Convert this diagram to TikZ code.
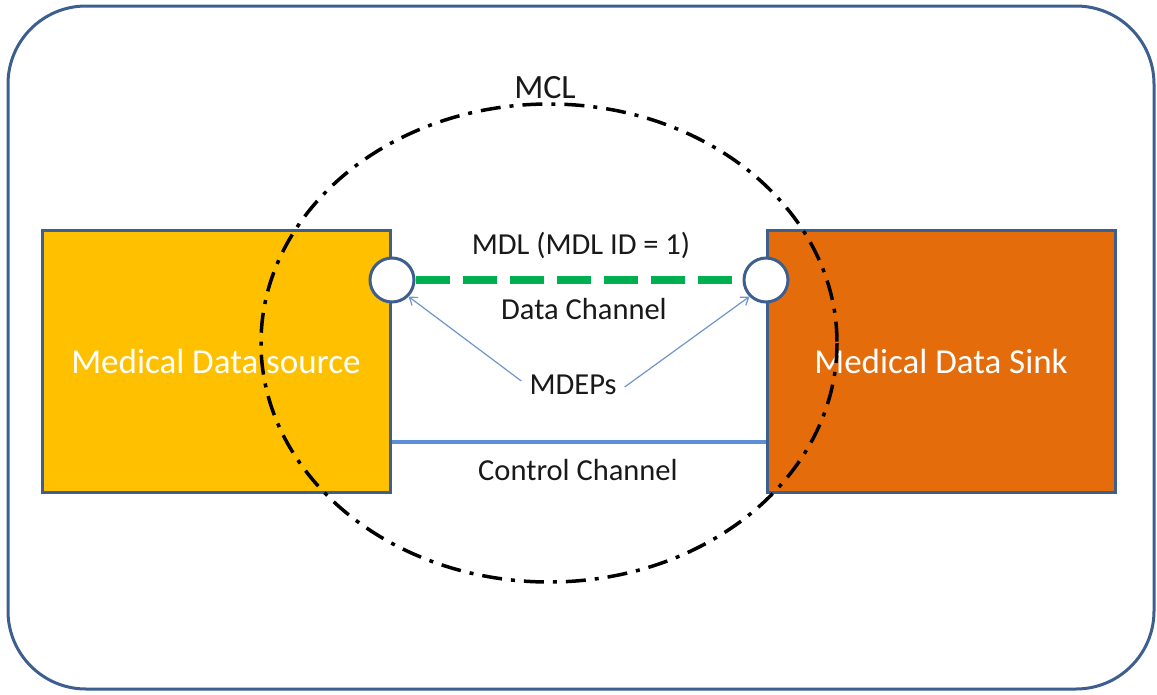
\documentclass[tikz,border=0pt]{standalone}
\usepackage{fontspec}
\setmainfont{Carlito}
\usetikzlibrary{arrows.meta}
\definecolor{frameblue}{HTML}{3D5F8F}
\definecolor{srcgold}{HTML}{FFC000}
\definecolor{sinkorange}{HTML}{E46C0A}
\definecolor{datagreen}{HTML}{00B050}
\definecolor{ctrlblue}{HTML}{5B8FD6}
\definecolor{pointerblue}{HTML}{6E95CC}
\tikzset{
  x=1pt, y=-1pt,
  devicebox/.style={draw=frameblue, line width=3pt, minimum width=348pt, minimum height=262pt, inner sep=0pt, text=white, font=\fontsize{35}{40}\selectfont},
  endpoint/.style={circle, draw=frameblue, line width=3pt, fill=white, minimum size=44pt, inner sep=0pt},
  label/.style={text=black!90, font=\fontsize{30.5}{35}\selectfont, inner sep=0pt},
  pointer/.style={draw=pointerblue, line width=1.2pt, -{Straight Barb[length=7pt,width=10pt]}}
}
\begin{document}
\begin{tikzpicture}
\useasboundingbox (0,0) rectangle (1157,694);
% enclosing frame
\draw[frameblue, line width=3pt, rounded corners=78pt] (8,6) rectangle (1154,689);
% source and sink devices
\node[devicebox, fill=srcgold] (src) at (216,361) {Medical Data source};
\node[devicebox, fill=sinkorange] (sink) at (941,361) {Medical Data Sink};
% control channel
\draw[ctrlblue, line width=4pt] (src.east |- 0,442) coordinate (c1) -- (sink.west |- 0,442) coordinate (c2);
\node[label] (ctrl) at (578,470) {Control Channel};
% MCL boundary
\draw[black, line width=3.5pt, dash pattern=on 20pt off 9pt on 4pt off 9pt] (549,343) ellipse [x radius=288, y radius=239];
\node[label, font=\fontsize{34}{38}\selectfont] (mcl) at (545,88) {MCL};
% endpoints and data channel
\node[endpoint] (ep1) at (392,280) {};
\node[endpoint] (ep2) at (766,280) {};
\draw[datagreen, line width=8pt, dash pattern=on 34pt off 13pt] (ep1.east) -- (ep2.west);
\node[label] (mdl) at (581,245) {MDL (MDL ID = 1)};
\node[label] (data) at (584,309) {Data Channel};
\node[label] (mdeps) at (573,385) {MDEPs};
\draw[pointer] (mdeps.west) ++(-8,-4) coordinate (p1) -- (ep1.south east);
\draw[pointer] (mdeps.east) ++(8,2) coordinate (p2) -- (ep2.south west);
\end{tikzpicture}
\end{document}
